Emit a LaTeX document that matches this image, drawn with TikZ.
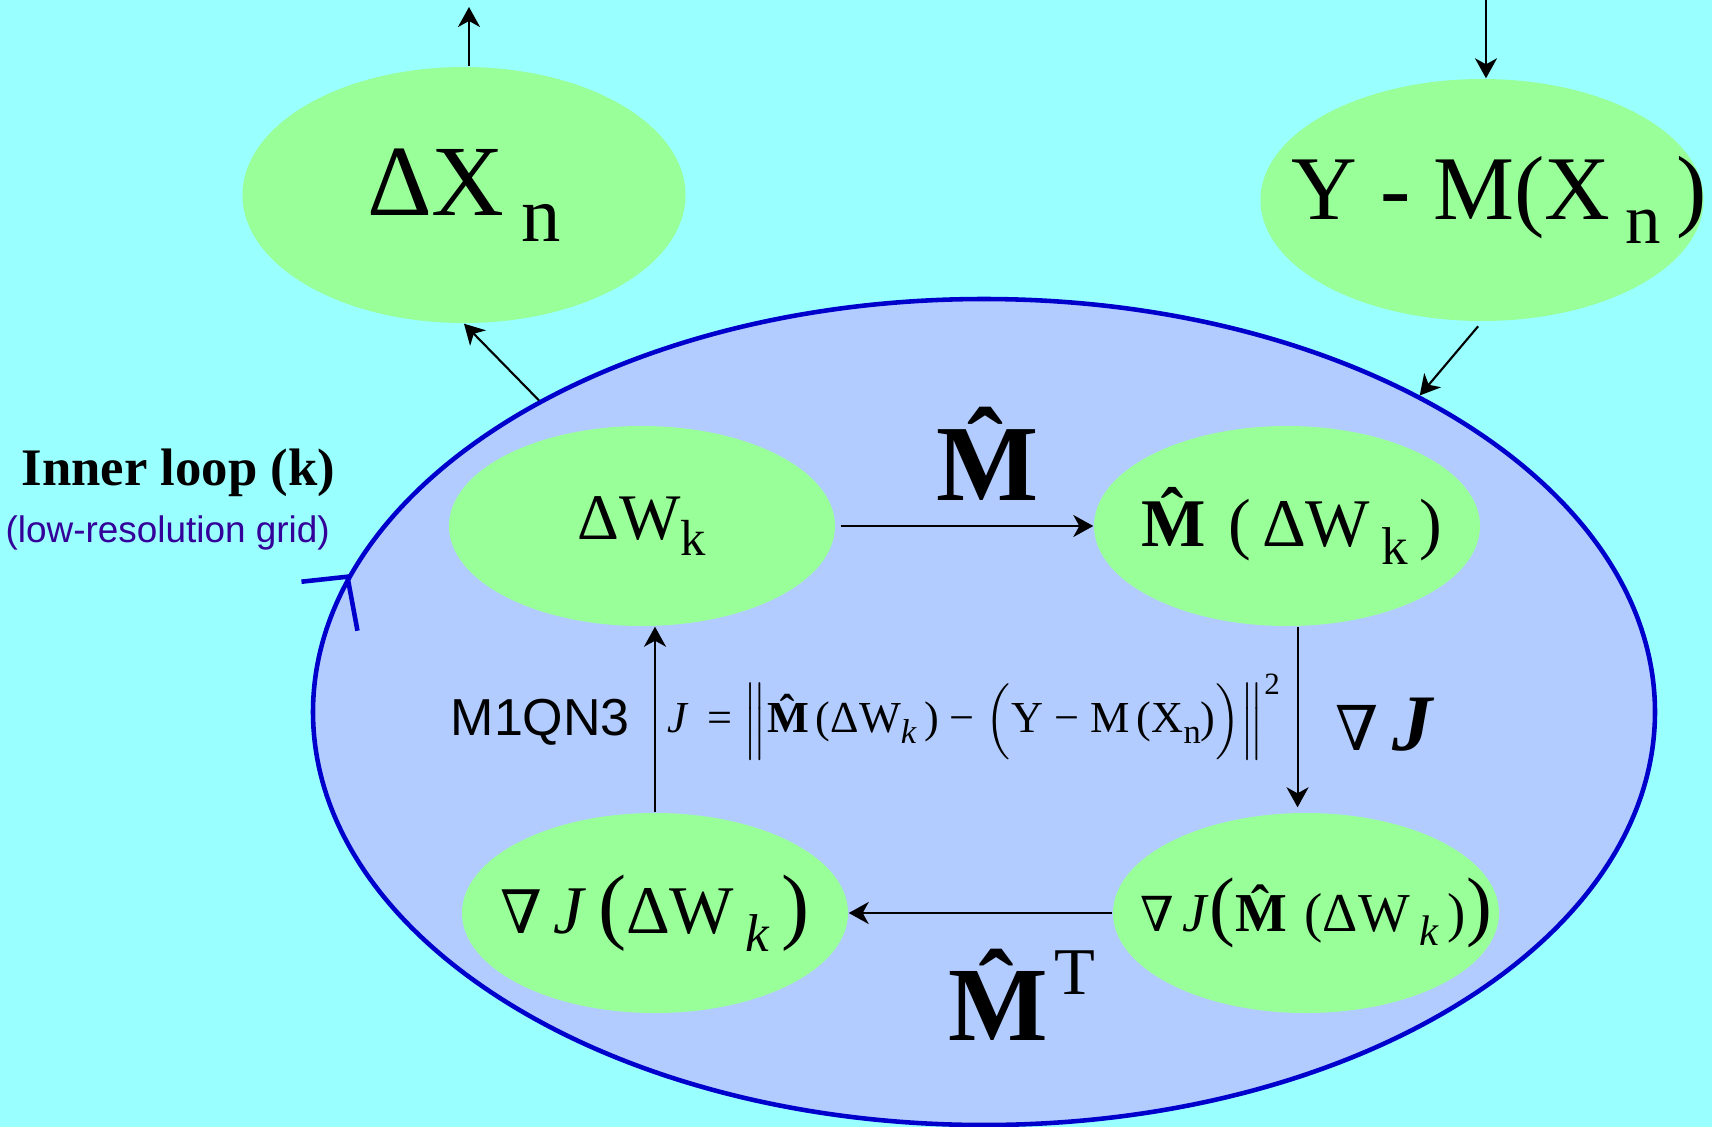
\documentclass[tikz,border=0pt]{standalone}
\usepackage{fontspec}
\usepackage{amsmath}
\usepackage{graphicx}
\setmainfont{Liberation Serif}
\setsansfont{Liberation Sans}
\newfontfamily\nablafont{DejaVu Serif}
\usetikzlibrary{arrows.meta,shapes.geometric,calc}
\definecolor{bgCyan}    {RGB}{153,255,255}
\definecolor{loopBlue}  {RGB}{179,204,255}
\definecolor{loopEdge}  {RGB}{  0,  0,204}
\definecolor{blobGreen} {RGB}{153,255,153}
\definecolor{noteIndigo}{RGB}{ 51,  0,153}
\newcommand{\fsz}[1]{\fontsize{#1}{#1}\selectfont}
\newcommand{\lsub}[1]{\raisebox{-0.26em}{\scalebox{0.78}{#1}}}
\newcommand{\hatM}{\textbf{\^{M}}}
\newcommand{\grad}{{\nablafont\scalebox{0.88}{∇}}}
\newcommand{\inblob}[1]{\makebox[0pt]{#1}}
\begin{document}
\begin{tikzpicture}[
  x=0.1mm,y=-0.1mm,
  >={Stealth[length=2mm,width=2.2mm,inset=0.6mm]},
  flow/.style={->,line width=0.6pt,black},
  blob/.style ={ellipse,fill=blobGreen,inner sep=0pt,
                minimum width=38.6mm,minimum height=20mm},
  outer/.style={blob,minimum width=44.3mm},
  rim/.style  ={draw=loopEdge,line width=1.3pt},
  lbl/.style  ={inner sep=0pt,anchor=base}
]
\fill[bgCyan] (0,0) rectangle (1712,1127);
\useasboundingbox (0,0) rectangle (1712,1127);

% inner loop
\node[ellipse,fill=loopBlue,rim,inner sep=0pt,
      minimum width=134.2mm,minimum height=82.6mm] (loop) at (984,712) {};
\draw[rim] ($(loop.168)+(-46,5)$) -- (loop.168) -- ($(loop.168)+(10,54)$);

% outer loop quantities
\node[outer,minimum height=25.6mm] (dX) at (464,195)
  {\inblob{\fsz{28.7pt}ΔX\,\lsub{n}}};
\node[outer,minimum height=24.2mm] (YM) at (1482,200)
  {\inblob{\fsz{25.9pt}\hspace{3.4mm}Y - M(X\,\lsub{n}\,)}};

% inner loop quantities
\node[blob] (dW)   at (642,526)  {\inblob{\fsz{18.5pt}ΔW\lsub{k}}};
\node[blob] (MdW)  at (1287,526) {\inblob{\fsz{19.4pt}\hspace{1mm}\hatM\,(\,ΔW\,\lsub{k}\,)}};
\node[blob] (gJdW) at (655,913)
  {\inblob{\fsz{19.4pt}\grad\,\textit{J}\,{\fsz{24pt}(}ΔW\,\lsub{\textit{k}}\,{\fsz{24pt})}}};
\node[blob] (gJM)  at (1306,913)
  {\inblob{\fsz{15.6pt}\hspace{2mm}\grad\,\textit{J}{\fsz{22pt}(}\hatM\,(ΔW\,\lsub{\textit{k}}\,){\fsz{22pt})}}};

\coordinate (out) at (469,7);
\coordinate (in)  at (1486,0);

\draw[flow] (out |- dX.north) -- (out);
\draw[flow] (loop.145) -- (dX.south);
\draw[flow] (in) -- (in |- YM.north);
\draw[flow,shorten <=0.6mm] (YM.south) -- (loop.36);
\draw[flow,shorten <=0.5mm] (dW.east) -- (MdW.west);
\draw[flow,shorten >=0.5mm] (MdW.-84) -- (MdW.-84 |- gJM.north);
\draw[flow] (gJM.west) -- (gJdW.east);
\draw[flow] (gJdW.north) -- (gJdW.north |- dW.south);

% labels
\node[lbl] (Mlab)  at (996,500)  {\fsz{30.8pt}\hatM};
\node[lbl] (gJlab) at (1385,750)
  {\fsz{22.8pt}{\fsz{20pt}\grad}\,\textbf{\textit{J}}};
\node[lbl,anchor=base west] (MTlab) at (948,1040)
  {\fsz{30pt}\hatM\kern-1mm\raisebox{0.43em}{\fsz{19pt}T}};
\node[lbl,anchor=base west,font=\sffamily] (solver) at (450,735) {\fsz{14.8pt}M1QN3};
\node[lbl,anchor=base west] (cost) at (667,732)
  {\fsz{12.6pt}\textit{J}\, = $\Bigl\|\text{\hatM(ΔW\lsub{\textit{k}}\,) − }\Bigl(\text{Y − M\,(X\lsub{n})}\Bigr)\Bigr\|^{\text{2}}$};
\node[lbl,anchor=base west] (title) at (21,485) {\fsz{15pt}\textbf{Inner loop (k)}};
\node[lbl,anchor=base west,text=noteIndigo,font=\sffamily] (note) at (5,542)
  {\fsz{10.5pt}(low-resolution grid)};
\end{tikzpicture}
\end{document}
